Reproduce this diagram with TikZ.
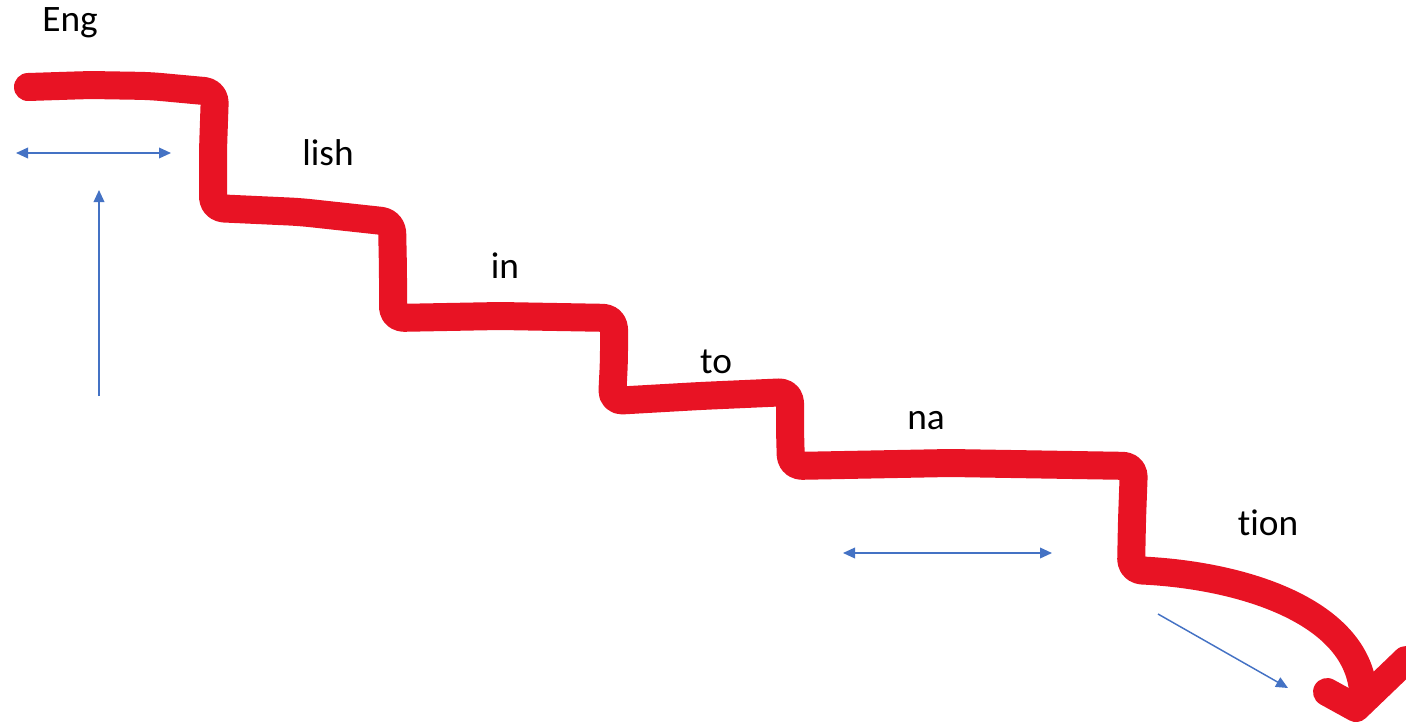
\documentclass[tikz,border=0pt]{standalone}
\usepackage{fontspec}
\setmainfont{Carlito}[Ligatures=NoCommon]
\usetikzlibrary{arrows.meta}
\definecolor{stairred}{RGB}{232,19,36}
\definecolor{arrowblue}{RGB}{68,114,196}
\tikzset{
  stair/.style={draw=stairred, line width=21pt, line cap=round, line join=round, rounded corners=8pt},
  bluearrow/.style={draw=arrowblue, line width=1.1pt, -{Triangle[length=9pt,width=8pt]}},
  bluedouble/.style={draw=arrowblue, line width=1.1pt, {Triangle[length=9pt,width=8pt]}-{Triangle[length=9pt,width=8pt]}},
  word/.style={font=\fontsize{28}{32}\selectfont, inner sep=0pt, anchor=center}
}
\begin{document}
\begin{tikzpicture}[x=0.75pt,y=-0.75pt]
\useasboundingbox (0,0) rectangle (1406,725);
% red staircase
\draw[stair] (28,87) -- (90,85) -- (150,86) -- (215,92) -- (213,150) -- (213,208)
  -- (300,212) -- (392,222) -- (393,270) -- (393,318)
  -- (500,316) -- (614,318) -- (614,360) -- (612,401)
  -- (700,396) -- (790,392) -- (790,430) -- (791,466)
  -- (950,463) -- (1134,466) -- (1132,520) -- (1131,570)
  [rounded corners=0pt] .. controls (1240,575) and (1355,610) .. (1363,690);
\draw[draw=stairred, line width=21pt, line cap=round, line join=round] (1327,692) -- (1356,708) -- (1406,660);
% blue arrows
\coordinate (a1s) at (16,153); \coordinate (a1e) at (171,153);
\coordinate (a2s) at (99,396); \coordinate (a2e) at (99,190);
\coordinate (a3s) at (843,553); \coordinate (a3e) at (1052,553);
\coordinate (a4s) at (1158,614); \coordinate (a4e) at (1288,688);
\draw[bluedouble] (a1s) -- (a1e);
\draw[bluearrow] (a2s) -- (a2e);
\draw[bluedouble] (a3s) -- (a3e);
\draw[bluearrow] (a4s) -- (a4e);
% words
\node[word] (w1) at (70,23) {Eng};
\node[word] (w2) at (328,153) {lish};
\node[word] (w3) at (505,266) {in};
\node[word] (w4) at (716,362) {to};
\node[word] (w5) at (926,421) {na};
\node[word] (w6) at (1268,523) {tion};
\end{tikzpicture}
\end{document}
